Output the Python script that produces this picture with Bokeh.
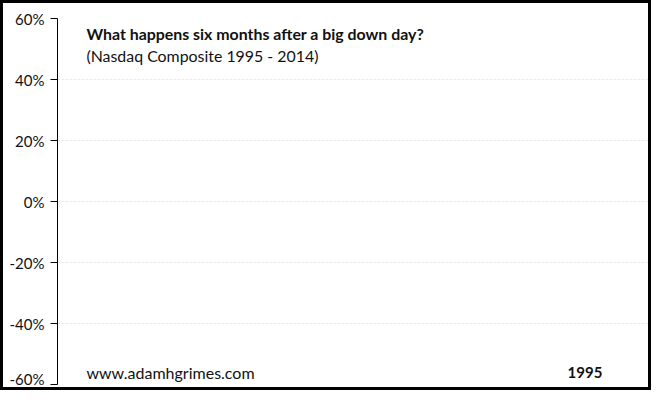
from bokeh.plotting import figure
from bokeh.models import Range1d, FixedTicker, Label
from bokeh.embed import file_html
from bokeh.resources import INLINE

# y axis ticks (percent) and their labels
y_ticks = [-60, -40, -20, 0, 20, 40, 60]
tick_labels = ["-60%", "-40%", "-20%", "0%", "20%", "40%", "60%"]

title_text = "What happens six months after a big down day?"
subtitle_text = "(Nasdaq Composite 1995 - 2014)"
source_text = "www.adamhgrimes.com"
year_text = "1995"

FONT = "Lato"

p = figure(width=651, height=390, output_backend="svg", toolbar_location=None,
           x_range=Range1d(0, 1), y_range=Range1d(-60, 60),
           min_border_left=54, min_border_right=6, min_border_top=15, min_border_bottom=9)
# black frame round the whole picture
p.styles = {"border": "3px solid black"}
p.outline_line_color = None
p.background_fill_color = "white"
p.border_fill_color = "white"

p.xaxis.visible = False
p.xgrid.visible = False

yax = p.yaxis[0]
yax.ticker = FixedTicker(ticks=y_ticks)
yax.major_label_overrides = {t: lab for t, lab in zip(y_ticks, tick_labels)}
yax.minor_tick_line_color = None
yax.major_tick_in = 0
yax.major_tick_out = 7
yax.major_label_standoff = 6
yax.axis_line_color = "black"
yax.major_tick_line_color = "black"
yax.major_label_text_font = FONT
yax.major_label_text_font_size = "15px"
yax.major_label_text_color = "#111111"

p.ygrid.ticker = FixedTicker(ticks=y_ticks)
p.ygrid.grid_line_color = "#ebebeb"
p.ygrid.grid_line_dash = "3 1"
p.ygrid.grid_line_width = 1

p.add_layout(Label(x=0.049, y=55.1, text=title_text, text_font=FONT, text_font_style="bold",
                   text_font_size="15.9px", text_color="#111111", text_baseline="middle"))
p.add_layout(Label(x=0.049, y=48.0, text=subtitle_text, text_font=FONT,
                   text_font_size="15.9px", text_color="#111111", text_baseline="middle"))
p.add_layout(Label(x=0.049, y=-56.1, text=source_text, text_font=FONT,
                   text_font_size="16px", text_color="#111111", text_baseline="middle"))
p.add_layout(Label(x=0.922, y=-56.1, text=year_text, text_font=FONT, text_font_style="bold",
                   text_font_size="15px", text_color="#111111", text_baseline="middle",
                   text_align="right"))

open("out.html", "w").write(file_html(p, INLINE))
